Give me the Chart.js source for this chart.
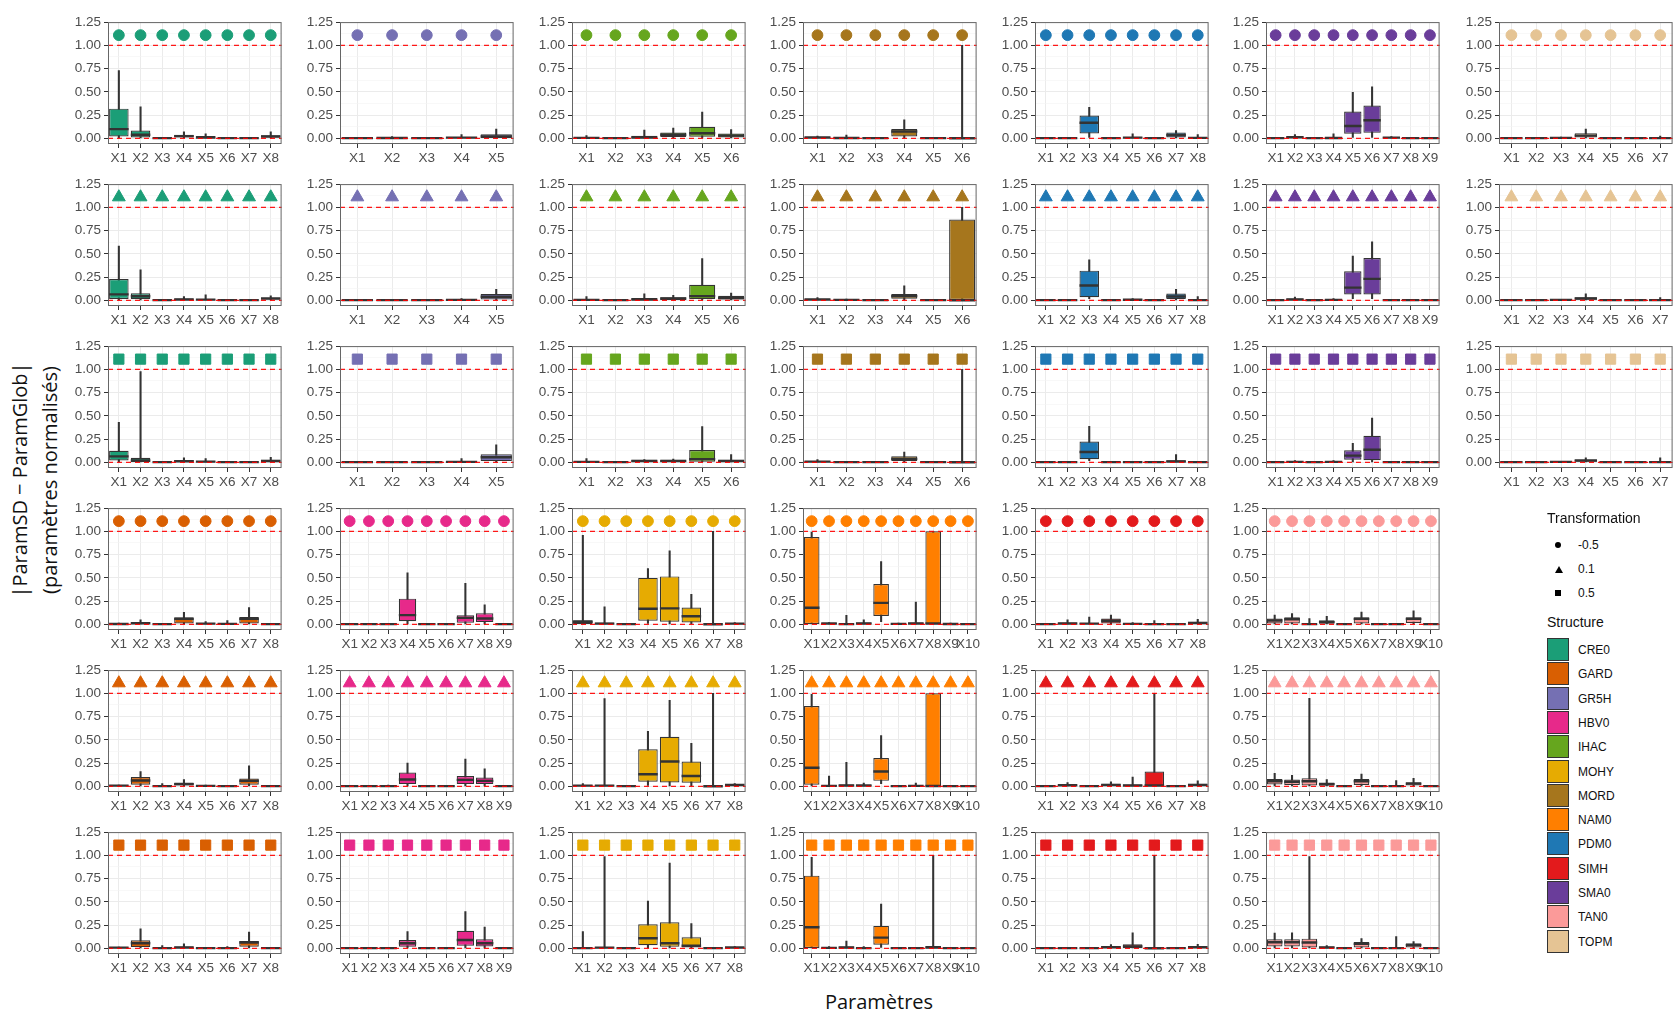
<!DOCTYPE html>
<html>
<head>
<meta charset="utf-8">
<script src="https://cdn.jsdelivr.net/npm/chart.js"></script>
<style>
  html, body { margin: 0; padding: 0; background: #fff; }
  #page { position: relative; width: 1677px; height: 1013px; overflow: hidden; font-family: "Liberation Sans", Arial, sans-serif; }
  #page canvas { position: absolute; }
  #ytitle { position: absolute; left: -113px; top: 448px; width: 300px; height: 64px; transform: rotate(-90deg);
            font-family: "Open Sans", sans-serif; font-size: 20px; line-height: 30px; text-align: center; color: #111; }
  #xtitle { position: absolute; left: 779px; top: 988px; width: 200px; text-align: center;
            font-family: "Open Sans", sans-serif; font-size: 20px; color: #111; }
  .legtitle { position: absolute; font-size: 14px; color: #111; }
  .leglabel { position: absolute; font-size: 12px; color: #111; line-height: 14px; }
  .legkey { position: absolute; width: 20px; height: 21px; border: 1px solid #333; }
  .dot { position: absolute; width: 6px; height: 6px; border-radius: 3px; background: #000; }
  .tri { position: absolute; width: 0; height: 0; border-left: 4px solid transparent; border-right: 4px solid transparent; border-bottom: 7px solid #000; }
  .sq { position: absolute; width: 6px; height: 6px; background: #000; }
</style>
</head>
<body>
<div id="page">
  <div id="ytitle">|ParamSD − ParamGlob|<br>(paramètres normalisés)</div>
  <div id="xtitle">Paramètres</div>
</div>
<script>
// box stats per parameter: [whisker low, q1, median, q3, whisker high]
// each structure: [transformation -0.5, 0.1, 0.5]
const t0 = [0, 0, 0.003, 0.008, 0.012];

const CRE0 = [
  [[0,0.02,0.1,0.32,0.73],[0,0.01,0.04,0.085,0.34],t0,[0,0.01,0.025,0.04,0.07],[0,0.005,0.01,0.025,0.05],t0,t0,[0,0.01,0.02,0.035,0.07]],
  [[0,0.015,0.065,0.23,0.585],[0,0.012,0.045,0.077,0.33],t0,[0,0.005,0.01,0.02,0.04],[0,0.002,0.008,0.015,0.06],t0,t0,[0,0.01,0.02,0.03,0.05]],
  [[0,0.02,0.065,0.125,0.43],[0,0.005,0.02,0.05,0.975],t0,[0,0.005,0.012,0.025,0.05],[0,0.002,0.008,0.015,0.04],t0,t0,[0,0.005,0.015,0.03,0.055]]
];
const GR5H = [
  [t0,[0,0.002,0.005,0.01,0.02],t0,[0,0.003,0.008,0.014,0.04],[0,0.005,0.02,0.045,0.1]],
  [t0,t0,t0,[0,0.002,0.006,0.012,0.02],[0,0.01,0.04,0.07,0.12]],
  [t0,t0,t0,[0,0.002,0.006,0.012,0.04],[0,0.014,0.056,0.088,0.19]]
];
const IHAC = [
  [[0,0.002,0.006,0.01,0.03],t0,[0,0.003,0.01,0.028,0.09],[0,0.015,0.04,0.063,0.11],[0,0.018,0.056,0.126,0.284],[0,0.01,0.03,0.053,0.095]],
  [[0,0.002,0.006,0.01,0.04],t0,[0,0.003,0.01,0.025,0.07],[0,0.005,0.02,0.035,0.056],[0,0.014,0.046,0.168,0.45],[0,0.01,0.025,0.05,0.08]],
  [[0,0.002,0.006,0.01,0.04],t0,[0,0.005,0.015,0.03,0.03],[0,0.005,0.015,0.03,0.035],[0,0.007,0.035,0.133,0.385],[0,0.005,0.015,0.03,0.085]]
];
const MORD = [
  [[0,0.005,0.01,0.018,0.025],[0,0,0.005,0.015,0.035],t0,[0,0.02,0.074,0.1,0.2],t0,[0,0,0.002,0.006,1.0]],
  [[0,0.005,0.01,0.018,0.03],[0,0.002,0.006,0.012,0.015],t0,[0,0.018,0.046,0.07,0.158],t0,[0,0,0.002,0.87,1.0]],
  [[0,0.003,0.008,0.015,0.03],t0,t0,[0,0.014,0.038,0.066,0.11],t0,[0,0,0.002,0.006,1.0]]
];
const PDM0 = [
  [t0,t0,[0.01,0.053,0.168,0.245,0.333],t0,[0,0.003,0.008,0.015,0.05],t0,[0,0.01,0.035,0.063,0.084],[0,0.002,0.006,0.012,0.04]],
  [t0,t0,[0.02,0.035,0.16,0.32,0.435],t0,[0,0.003,0.007,0.012,0.02],t0,[0,0.014,0.042,0.074,0.12],[0,0,0.003,0.008,0.04]],
  [t0,t0,[0.02,0.035,0.112,0.224,0.388],t0,t0,t0,[0,0.004,0.01,0.024,0.084],t0]
];
const SMA0 = [
  [t0,[0,0.005,0.012,0.02,0.04],t0,[0,0,0.004,0.008,0.05],[0.01,0.05,0.133,0.29,0.495],[0.01,0.06,0.196,0.354,0.554],[0,0.003,0.008,0.015,0.02],t0,t0],
  [t0,[0,0.005,0.01,0.02,0.035],t0,[0,0.002,0.006,0.012,0.02],[0.02,0.063,0.137,0.313,0.477],[0.02,0.063,0.232,0.456,0.63],t0,t0,t0],
  [t0,[0,0.002,0.006,0.01,0.02],t0,[0,0.002,0.006,0.01,0.02],[0,0.03,0.073,0.13,0.206],[0,0.024,0.136,0.287,0.476],t0,t0,t0]
];
const TOPM = [
  [t0,t0,[0,0.002,0.006,0.012,0.015],[0,0.01,0.03,0.056,0.1],t0,t0,[0,0,0.003,0.008,0.025]],
  [t0,t0,[0,0.002,0.006,0.01,0.012],[0,0.008,0.02,0.035,0.07],t0,t0,[0,0,0.003,0.008,0.03]],
  [t0,t0,[0,0.002,0.006,0.01,0.012],[0,0.008,0.02,0.03,0.05],t0,t0,[0,0,0.003,0.008,0.05]]
];
const GARD = [
  [[0,0.002,0.005,0.01,0.015],[0,0.005,0.012,0.025,0.05],t0,[0,0.01,0.06,0.077,0.13],[0,0.003,0.008,0.012,0.03],[0,0.003,0.006,0.012,0.04],[0,0.01,0.06,0.08,0.18],t0],
  [[0,0.003,0.008,0.012,0.015],[0,0.018,0.063,0.1,0.16],[0,0,0.003,0.008,0.03],[0,0.01,0.025,0.042,0.074],[0,0.003,0.006,0.01,0.015],t0,[0,0.018,0.06,0.084,0.22],t0],
  [[0,0.003,0.008,0.012,0.015],[0,0.014,0.056,0.088,0.21],[0,0,0.003,0.008,0.03],[0,0.004,0.01,0.02,0.05],t0,[0,0,0.003,0.008,0.02],[0,0.018,0.063,0.08,0.175],t0]
];
const HBV0 = [
  [t0,t0,t0,[0,0.035,0.1,0.277,0.555],t0,t0,[0,0.018,0.07,0.098,0.442],[0,0.025,0.063,0.12,0.21],t0],
  [t0,t0,[0,0,0.003,0.008,0.015],[0,0.025,0.074,0.15,0.25],t0,t0,[0,0.025,0.07,0.112,0.295],[0,0.025,0.06,0.095,0.19],t0],
  [t0,t0,t0,[0,0.018,0.056,0.09,0.18],t0,t0,[0,0.03,0.09,0.19,0.396],[0,0.02,0.056,0.098,0.23],t0]
];
const MOHY = [
  [[0,0.005,0.028,0.046,0.958],[0,0.002,0.008,0.02,0.19],t0,[0.01,0.04,0.168,0.5,0.6],[0.005,0.028,0.172,0.516,0.79],[0,0.02,0.088,0.182,0.323],[0,0,0.002,0.006,1.0],[0,0.003,0.008,0.012,0.02]],
  [[0,0.003,0.008,0.015,0.03],[0,0.002,0.008,0.015,0.944],t0,[0.01,0.05,0.13,0.4,0.593],[0.005,0.042,0.267,0.533,0.926],[0.005,0.04,0.112,0.267,0.463],[0,0,0.002,0.006,1.0],[0,0.008,0.015,0.022,0.03]],
  [[0,0,0.003,0.008,0.18],[0,0.002,0.008,0.015,0.986],t0,[0,0.035,0.109,0.26,0.509],[0,0.018,0.056,0.28,0.916],[0,0.01,0.028,0.12,0.267],t0,[0,0.005,0.01,0.015,0.02]]
];
const NAM0 = [
  [[0,0.005,0.179,0.94,0.993],[0,0.004,0.01,0.015,0.02],[0,0,0.003,0.008,0.098],[0,0.004,0.01,0.02,0.05],[0.03,0.09,0.232,0.435,0.674],[0,0.002,0.006,0.01,0.015],[0,0.004,0.01,0.02,0.24],[0,0.003,0.01,1.0,1.0],[0,0,0.004,0.008,0.015],t0],
  [[0,0.018,0.2,0.863,0.99],[0,0.002,0.006,0.015,0.112],[0,0.004,0.01,0.02,0.26],[0,0.004,0.01,0.015,0.035],[0.03,0.06,0.161,0.305,0.547],t0,[0,0.002,0.006,0.01,0.035],[0,0.003,0.005,1.0,1.0],t0,t0],
  [[0,0.005,0.228,0.782,0.979],[0,0.002,0.006,0.012,0.02],[0,0.004,0.01,0.02,0.08],[0,0,0.003,0.008,0.02],[0.01,0.04,0.116,0.242,0.477],t0,t0,[0,0.003,0.01,0.025,1.0],t0,t0]
];
const SIMH = [
  [t0,[0,0.004,0.01,0.02,0.05],[0,0.003,0.008,0.015,0.08],[0,0.01,0.04,0.063,0.1],[0,0.003,0.006,0.01,0.02],[0,0,0.003,0.008,0.04],t0,[0,0.006,0.015,0.03,0.055]],
  [t0,[0,0.005,0.012,0.02,0.04],t0,[0,0.005,0.015,0.03,0.05],[0,0.004,0.01,0.02,0.1],[0,0.003,0.01,0.16,1.0],t0,[0,0.005,0.015,0.03,0.06]],
  [t0,t0,t0,[0,0.005,0.012,0.025,0.04],[0,0.005,0.02,0.045,0.168],[0,0,0.002,0.006,1.0],t0,[0,0.005,0.012,0.025,0.045]]
];
const TAN0 = [
  [[0,0.01,0.042,0.063,0.1],[0,0.01,0.056,0.077,0.116],[0,0,0.003,0.008,0.063],[0,0.008,0.025,0.046,0.088],t0,[0,0.01,0.06,0.077,0.133],t0,t0,[0,0.015,0.06,0.077,0.147],t0],
  [[0,0.02,0.056,0.08,0.14],[0,0.015,0.05,0.074,0.12],[0,0.01,0.056,0.088,0.947],[0,0.008,0.025,0.042,0.074],t0,[0,0.015,0.056,0.08,0.133],t0,[0,0,0.003,0.008,0.063],[0,0.01,0.03,0.046,0.088],t0],
  [[0,0.02,0.067,0.098,0.165],[0,0.02,0.067,0.098,0.168],[0,0.01,0.063,0.105,0.986],[0,0.004,0.01,0.02,0.03],t0,[0,0.01,0.049,0.07,0.105],t0,[0,0,0.003,0.008,0.126],[0,0.01,0.035,0.056,0.074],t0]
];

const paramLabels = ['X1','X2','X3','X4','X5','X6','X7','X8','X9','X10'];
const transformations = ['-0.5', '0.1', '0.5'];
const topStructures = ['CRE0','GR5H','IHAC','MORD','PDM0','SMA0','TOPM'];
const bottomStructures = ['GARD','HBV0','MOHY','NAM0','SIMH','TAN0'];
const legendStructures = ['CRE0','GARD','GR5H','HBV0','IHAC','MOHY','MORD','NAM0','PDM0','SIMH','SMA0','TAN0','TOPM'];
const yMajorTicks = [0, 0.25, 0.5, 0.75, 1, 1.25];
const yMinorTicks = [0.125, 0.375, 0.625, 0.875, 1.125];
const refLevels = [0, 1];
const markerLevel = 1.11;

const structureStats = { CRE0, GR5H, IHAC, MORD, PDM0, SMA0, TOPM, GARD, HBV0, MOHY, NAM0, SIMH, TAN0 };
const structureColors = {
  CRE0: '#1B9E77', GARD: '#D95F02', GR5H: '#7570B3', HBV0: '#E7298A', IHAC: '#66A61E',
  MOHY: '#E6AB02', MORD: '#A6761D', NAM0: '#FF7F00', PDM0: '#1F78B4', SIMH: '#E31A1C',
  SMA0: '#6A3D9A', TAN0: '#FB9A99', TOPM: '#E5C494'
};
const shapes = ['circle', 'triangle', 'rect'];
const shapeRadius = [5.4, 7.4, 7.2];

// layout (px)
const colLeft = [108, 340, 572, 803, 1035, 1266, 1499];
const rowTop = [19, 181, 343, 505, 667, 829];
const plotW = 181, plotH = 125;
const padL = 52, padT = 8, padR = 3, padB = 24;

Chart.defaults.font.family = '"Liberation Sans", Arial, sans-serif';
Chart.defaults.font.size = 13.5;

const isMajor = v => Math.abs(v * 4 - Math.round(v * 4)) < 1e-6;

const panelDecor = {
  id: 'panelDecor',
  afterDatasetsDraw(chart) {
    const { ctx, chartArea: a, scales: { y } } = chart;
    ctx.save();
    ctx.strokeStyle = 'rgba(255,0,0,0.9)';
    ctx.lineWidth = 1.4;
    ctx.setLineDash([5, 4]);
    refLevels.forEach(v => {
      const py = y.getPixelForValue(v);
      ctx.beginPath();
      ctx.moveTo(a.left, py);
      ctx.lineTo(a.right, py);
      ctx.stroke();
    });
    ctx.setLineDash([]);
    ctx.strokeStyle = '#666666';
    ctx.lineWidth = 1;
    ctx.strokeRect(a.left + 0.5, a.top + 0.5, a.right - a.left - 1, a.bottom - a.top - 1);
    ctx.restore();
  }
};

const page = document.getElementById('page');

function makePanel(name, row, col, tIdx) {
  const stats = structureStats[name][tIdx];
  const n = stats.length;
  const labels = paramLabels.slice(0, n);
  const color = structureColors[name];

  const canvas = document.createElement('canvas');
  canvas.width = padL + plotW + padR;
  canvas.height = padT + plotH + padB;
  canvas.style.left = (colLeft[col] - padL) + 'px';
  canvas.style.top = (rowTop[row] - padT) + 'px';
  page.appendChild(canvas);

  const halfBox = ctx => {
    const a = ctx.chart.chartArea;
    return a ? (a.right - a.left) / n * 0.45 : 8;
  };

  new Chart(canvas, {
    type: 'bar',
    data: {
      labels: labels,
      datasets: [
        {
          type: 'bar',
          data: stats.map(s => [s[0], s[4]]),
          backgroundColor: '#333333',
          barThickness: 1.4,
          grouped: false,
          order: 3
        },
        {
          type: 'bar',
          data: stats.map(s => [s[1], s[3]]),
          backgroundColor: color,
          borderColor: '#333333',
          borderWidth: 1.2,
          borderSkipped: false,
          barPercentage: 0.9,
          categoryPercentage: 1,
          grouped: false,
          order: 2
        },
        {
          type: 'line',
          data: stats.map(s => s[2]),
          showLine: false,
          pointStyle: 'line',
          pointRadius: halfBox,
          pointBorderColor: '#333333',
          pointBorderWidth: 2.4,
          order: 1
        },
        {
          type: 'line',
          data: labels.map(() => markerLevel),
          showLine: false,
          pointStyle: shapes[tIdx],
          pointRadius: shapeRadius[tIdx],
          pointBackgroundColor: color,
          pointBorderColor: color,
          pointBorderWidth: 1,
          order: 0
        }
      ]
    },
    options: {
      animation: false,
      responsive: false,
      events: [],
      layout: { padding: { left: 0, top: padT, right: padR, bottom: 0 } },
      plugins: { legend: { display: false }, tooltip: { enabled: false } },
      scales: {
        x: {
          offset: true,
          border: { display: false },
          grid: { offset: false, color: '#EBEBEB', lineWidth: 1, tickLength: 4, tickColor: '#333333' },
          ticks: { color: '#4D4D4D', padding: 2, maxRotation: 0, minRotation: 0, autoSkip: false },
          afterFit: s => { s.height = padB; }
        },
        y: {
          min: -0.06,
          max: 1.25,
          border: { display: false },
          afterBuildTicks: s => { s.ticks = yMajorTicks.concat(yMinorTicks).sort((p, q) => p - q).map(v => ({ value: v })); },
          grid: {
            color: c => (c.tick && isMajor(c.tick.value)) ? '#EBEBEB' : '#F4F4F4',
            lineWidth: c => (c.tick && isMajor(c.tick.value)) ? 1 : 0.6,
            tickLength: 4,
            tickColor: c => (c.tick && isMajor(c.tick.value)) ? '#333333' : 'rgba(0,0,0,0)'
          },
          ticks: {
            color: '#4D4D4D',
            padding: 3,
            autoSkip: false,
            callback: v => isMajor(v) ? v.toFixed(2) : ''
          },
          afterFit: s => { s.width = padL; }
        }
      }
    },
    plugins: [panelDecor]
  });
}

topStructures.forEach((name, col) => {
  for (let t = 0; t < 3; t++) makePanel(name, t, col, t);
});
bottomStructures.forEach((name, col) => {
  for (let t = 0; t < 3; t++) makePanel(name, t + 3, col, t);
});

// legend
function addEl(cls, left, top, text) {
  const d = document.createElement('div');
  d.className = cls;
  d.style.left = left + 'px';
  d.style.top = top + 'px';
  if (text !== undefined) d.textContent = text;
  page.appendChild(d);
  return d;
}
addEl('legtitle', 1547, 510, 'Transformation');
const symCls = ['dot', 'tri', 'sq'];
transformations.forEach((t, i) => {
  const cy = 545 + i * 24;
  addEl(symCls[i], 1555, cy - 3.5);
  addEl('leglabel', 1578, cy - 7, t);
});
addEl('legtitle', 1547, 614, 'Structure');
legendStructures.forEach((s, i) => {
  const top = 638 + i * 24.3;
  const k = addEl('legkey', 1547, top);
  k.style.background = structureColors[s];
  addEl('leglabel', 1578, top + 5, s);
});
</script>
</body>
</html>
